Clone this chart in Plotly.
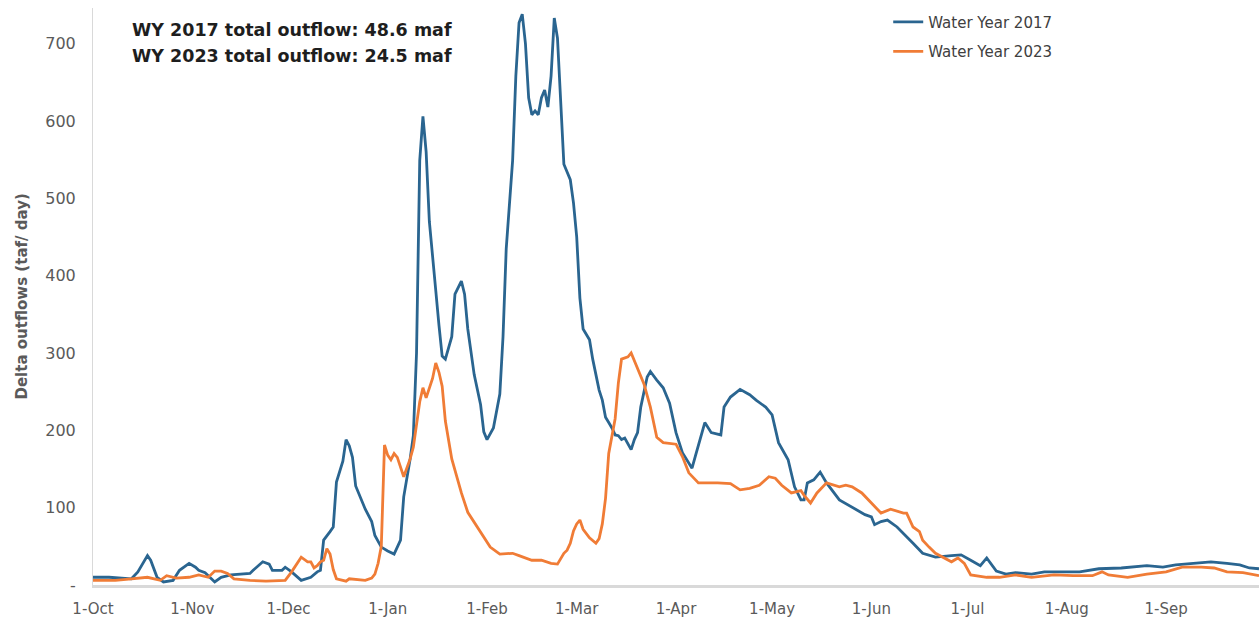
import pandas as pd
import plotly.graph_objects as go

# ---- data ----
wy_start = "2016-10-01"          # day 0 of the water year (Oct 1)

days_2017 = [0, 5, 12, 14, 17, 18, 20, 22, 25, 27, 30, 32, 33, 35, 38, 40, 43, 49, 50, 53,
             55, 56, 59, 60, 62, 65, 68, 70, 71, 72, 74, 75, 76, 78, 79, 80, 81, 82, 85, 87,
             88, 90, 92, 94, 96, 97, 99, 100, 101, 102, 103, 104, 105, 106, 107, 108, 109, 110, 112, 113,
             115, 116, 117, 119, 121, 122, 123, 125, 127, 128, 129, 131, 132, 133, 134, 135, 136, 137, 138, 139,
             140, 141, 142, 143, 144, 145, 146, 147, 149, 150, 151, 152, 153, 155, 156, 157, 158, 159, 160, 161,
             162, 163, 164, 165, 166, 168, 169, 170, 171, 173, 174, 176, 178, 180, 182, 184, 187, 188, 191, 193,
             196, 197, 199, 202, 205, 207, 210, 212, 214, 217, 219, 221, 222, 223, 225, 227, 229, 233, 237, 241,
             243, 244, 246, 248, 251, 253, 256, 259, 263, 268, 271, 274, 277, 279, 282, 285, 288, 293, 297, 302,
             308, 314, 321, 329, 334, 338, 343, 349, 354, 358, 361, 364]
flow_2017 = [10, 10, 8, 17, 38, 32, 10, 4, 6, 19, 28, 23, 19, 16, 4, 10, 13, 15, 19, 30,
             27, 19, 19, 23, 17, 6, 10, 17, 19, 58, 69, 75, 133, 160, 188, 180, 165, 128, 98, 82,
             64, 49, 44, 40, 58, 114, 163, 193, 300, 549, 606, 560, 470, 420, 381, 336, 296, 292, 321, 376,
             393, 376, 331, 272, 233, 198, 188, 203, 247, 321, 435, 549, 658, 727, 738, 700, 630, 608, 613, 608,
             630, 640, 618, 658, 733, 707, 633, 544, 524, 494, 450, 371, 331, 317, 292, 274, 252, 239, 217, 210,
             203, 194, 193, 188, 190, 175, 188, 197, 230, 269, 276, 265, 255, 235, 197, 171, 151, 166, 210, 197,
             194, 230, 243, 253, 246, 239, 230, 220, 184, 162, 127, 110, 110, 132, 136, 146, 132, 110, 100, 91,
             88, 78, 82, 84, 75, 67, 54, 41, 36, 38, 39, 32, 25, 35, 18, 14, 16, 14, 17, 17,
             17, 21, 22, 25, 23, 26, 28, 30, 28, 26, 22, 21]

days_2023 = [0, 7, 12, 17, 21, 23, 26, 30, 33, 36, 38, 40, 42, 44, 49, 54, 60, 62, 65, 67,
             68, 69, 70, 71, 72, 73, 74, 75, 76, 79, 80, 85, 87, 88, 89, 90, 91, 92, 93, 94,
             95, 97, 99, 100, 102, 103, 104, 106, 107, 108, 109, 110, 112, 115, 117, 121, 124, 127, 131, 133,
             137, 140, 143, 145, 147, 148, 149, 150, 151, 152, 153, 155, 156, 157, 158, 159, 160, 161, 163, 164,
             165, 167, 168, 170, 171, 172, 174, 176, 178, 182, 184, 186, 189, 195, 199, 202, 205, 208, 211, 213,
             215, 218, 221, 222, 224, 226, 229, 233, 235, 237, 240, 243, 246, 249, 253, 254, 256, 258, 259, 261,
             263, 268, 270, 272, 274, 279, 283, 288, 293, 300, 306, 312, 315, 317, 323, 329, 335, 340, 346, 350,
             354, 359, 364]
flow_2023 = [6, 6, 8, 10, 6, 12, 9, 10, 13, 10, 18, 18, 15, 8, 6, 5, 6, 17, 36, 30,
             30, 22, 25, 30, 32, 47, 40, 20, 8, 5, 8, 6, 9, 14, 28, 50, 181, 168, 162, 170,
             165, 140, 163, 178, 237, 255, 242, 267, 287, 275, 257, 212, 163, 119, 94, 69, 49, 40, 41, 38,
             32, 32, 28, 27, 41, 45, 54, 70, 79, 84, 72, 61, 57, 54, 60, 79, 112, 170, 215, 261,
             292, 295, 300, 280, 269, 260, 230, 191, 184, 182, 166, 145, 132, 132, 131, 123, 125, 129, 140, 138,
             129, 119, 122, 116, 106, 119, 132, 127, 129, 127, 119, 106, 93, 98, 93, 93, 75, 69, 58, 49,
             41, 30, 35, 28, 13, 10, 10, 13, 10, 13, 12, 12, 17, 13, 10, 14, 17, 23, 23, 22,
             17, 16, 12]

series_names = ["Water Year 2017", "Water Year 2023"]
y_ticks = [0, 100, 200, 300, 400, 500, 600, 700]
y_tick_labels = ["-", "100", "200", "300", "400", "500", "600", "700"]
y_title = "Delta outflows (taf/ day)"
note_lines = ["WY 2017 total outflow: 48.6 maf", "WY 2023 total outflow: 24.5 maf"]

# ---- styling ----
BLUE = "#2a6590"
ORANGE = "#f07c36"
GRAY_TXT = "#5a5a5a"
FONT = "DejaVu Sans"

start = pd.Timestamp(wy_start)
x17 = start + pd.to_timedelta(days_2017, unit="D")
x23 = start + pd.to_timedelta(days_2023, unit="D")

fig = go.Figure()
fig.add_trace(go.Scatter(x=x17, y=flow_2017, mode="lines", name=series_names[0],
                         legendgroup="a", line=dict(color=BLUE, width=2.8)))
fig.add_trace(go.Scatter(x=x23, y=flow_2023, mode="lines", name=series_names[1],
                         legendgroup="b", line=dict(color=ORANGE, width=2.8)))

fig.update_layout(
    width=1259, height=620,
    margin=dict(l=93, r=0, t=8, b=35),
    paper_bgcolor="white", plot_bgcolor="white",
    font=dict(family=FONT, size=16, color=GRAY_TXT),
    showlegend=True,
    legend=dict(x=0.682, y=1.004, xanchor="left", yanchor="top",
                font=dict(family=FONT, size=15, color="#404040"),
                traceorder="grouped", tracegroupgap=7,
                bgcolor="rgba(0,0,0,0)"),
)

fig.update_xaxes(
    range=[start, start + pd.Timedelta(days=364)],
    tickformat="%-d-%b", dtick="M1", tick0=wy_start,
    showgrid=False, zeroline=False,
    showline=True, linecolor="#d9d9d9", linewidth=2.5,
    ticks="", ticklabelstandoff=8,
    tickfont=dict(family=FONT, size=15, color=GRAY_TXT),
)
fig.update_yaxes(
    range=[0, 746], tickvals=y_ticks, ticktext=y_tick_labels,
    showgrid=False, zeroline=False,
    showline=True, linecolor="#d9d9d9", linewidth=1,
    ticks="", ticklabelstandoff=13,
    tickfont=dict(family=FONT, size=16, color=GRAY_TXT),
)

# y-axis title
fig.add_annotation(text=y_title, xref="paper", yref="paper",
                   x=(21 - 93) / 1166, y=0.5, textangle=-90, showarrow=False,
                   font=dict(family=FONT, size=15, color=GRAY_TXT, weight="bold"),
                   xanchor="center", yanchor="middle")

# totals note
for i, line in enumerate(note_lines):
    fig.add_annotation(text=f"<b>{line}</b>", xref="paper", yref="paper",
                       x=(130 - 93) / 1166, y=1 - ((30 + 26 * i) - 8) / 577,
                       xanchor="left", yanchor="middle", showarrow=False,
                       font=dict(family=FONT, size=17.5, color="#1e1e1e"))

fig.write_html("out.html", config={"displayModeBar": False},
               post_script="document.body.style.margin='0';document.body.style.overflow='hidden';")
